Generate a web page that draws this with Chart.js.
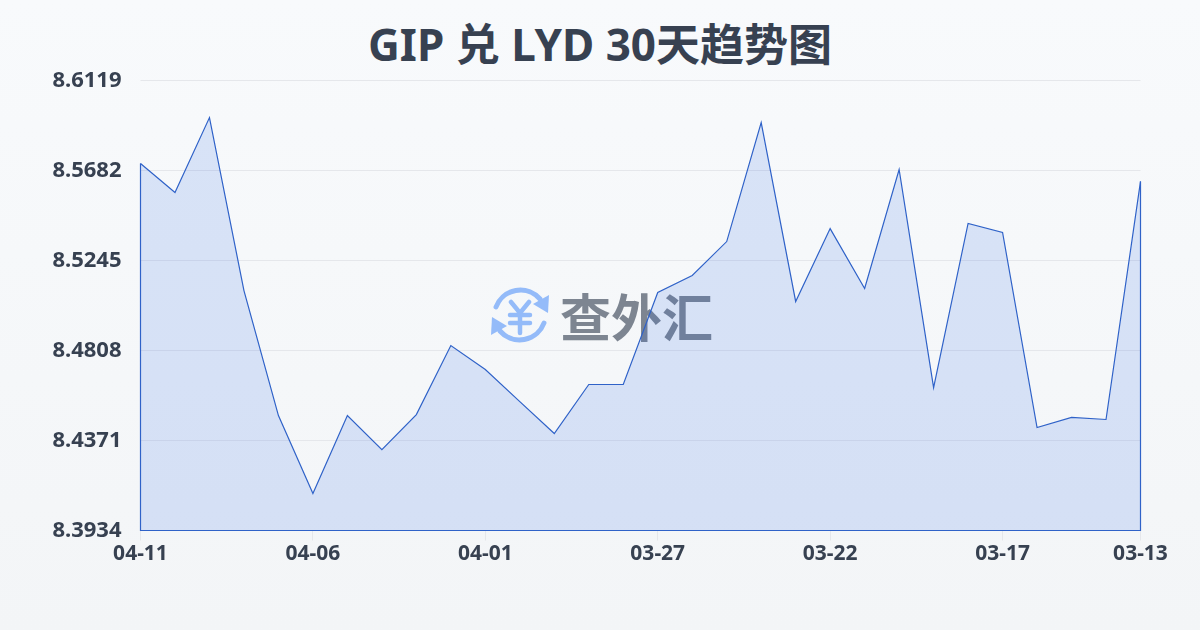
<!DOCTYPE html>
<html lang="zh">
<head>
  <meta charset="UTF-8">
  <title>GIP 兑 LYD 30天趋势图</title>
  <script src="https://cdn.jsdelivr.net/npm/chart.js"></script>
  <style>
    html, body {
      margin: 0;
      width: 1200px;
      height: 630px;
      overflow: hidden;
    }
    body {
      position: relative;
      background: linear-gradient(180deg, #f8fafc, #f3f5f7);
    }
    #chartBox {
      position: absolute;
      left: 0;
      top: 0;
      width: 1200px;
      height: 630px;
    }
    #chartTitle {
      position: absolute;
      left: 0;
      top: 14px;
      width: 1200px;
      margin: 0;
      text-align: center;
      font: 700 44px/60px 'Noto Sans', 'Noto Sans CJK SC', sans-serif;
      color: #374151;
    }
    .watermark {
      position: absolute;
      left: 490px;
      top: 284px;
      height: 62px;
      display: flex;
      align-items: center;
      font: 700 51px 'Noto Sans CJK SC', sans-serif;
      color: #7d8591;
    }
    .watermark svg {
      margin-right: 10px;
    }
  </style>
</head>
<body>

  <h1 id="chartTitle"></h1>

  <div class="watermark">
    <svg width="60" height="60" viewBox="0 0 60 60" fill="none" stroke="#94bbf9" stroke-width="5" stroke-linecap="round">
      <path d="M6 22 A26 26 0 0 1 50 14"/>
      <path d="M54 38 A26 26 0 0 1 10 46"/>
      <path d="M59 10 L58 28 L43 19 Z" fill="#94bbf9" stroke="none"/>
      <path d="M1 50 L2 32 L17 41 Z" fill="#94bbf9" stroke="none"/>
      <path d="M21 17 L30 28 L39 17 M20 30 H40 M20 38 H40 M30 28 V48" stroke-width="4.5"/>
    </svg>
    <span>查外汇</span>
  </div>

  <div id="chartBox"><canvas id="rateChart" width="1200" height="630"></canvas></div>

  <script>
    const chartTitle = 'GIP 兑 LYD 30天趋势图';
    const dates = [
      '04-11', '04-10', '04-09', '04-08', '04-07', '04-06', '04-05', '04-04', '04-03', '04-02',
      '04-01', '03-31', '03-30', '03-29', '03-28', '03-27', '03-26', '03-25', '03-24', '03-23',
      '03-22', '03-21', '03-20', '03-19', '03-18', '03-17', '03-16', '03-15', '03-14', '03-13'
    ];
    const rates = [
      8.5716, 8.5575, 8.5939, 8.5099, 8.4492, 8.4114, 8.4492, 8.4327, 8.4497, 8.4832,
      8.4716, 8.4560, 8.4405, 8.4643, 8.4643, 8.5090, 8.5172, 8.5337, 8.5915, 8.5046,
      8.5400, 8.5109, 8.5687, 8.4628, 8.5425, 8.5381, 8.4434, 8.4483, 8.4473, 8.5629
    ];
    const xTickLabels = ['04-11', '04-06', '04-01', '03-27', '03-22', '03-17', '03-13'];
    const yTickLabels = ['8.3934', '8.4371', '8.4808', '8.5245', '8.5682', '8.6119'];

    const textColor = '#374151';
    const lineColor = '#2f62c8';
    const gridColor = '#e5e7eb';
    const fontFamily = "'Noto Sans', 'Noto Sans CJK SC', sans-serif";

    document.getElementById('chartTitle').textContent = chartTitle;

    // the original strokes the whole area outline, Chart.js only strokes the top
    const outlinePlugin = {
      id: 'outline',
      afterDatasetsDraw(chart) {
        const pts = chart.getDatasetMeta(0).data;
        const base = chart.scales.y.bottom;
        const c = chart.ctx;
        c.save();
        c.strokeStyle = lineColor;
        c.lineWidth = 1.2;
        c.beginPath();
        c.moveTo(pts[0].x, pts[0].y);
        c.lineTo(pts[0].x, base);
        c.lineTo(pts[pts.length - 1].x, base);
        c.lineTo(pts[pts.length - 1].x, pts[pts.length - 1].y);
        c.stroke();
        c.restore();
      }
    };

    const ctx = document.getElementById('rateChart').getContext('2d');
    const rateChart = new Chart(ctx, {
      type: 'line',
      plugins: [outlinePlugin],
      data: {
        labels: dates,
        datasets: [{
          data: rates,
          borderColor: lineColor,
          borderWidth: 1.2,
          backgroundColor: 'rgba(42, 98, 225, 0.15)',
          fill: true,
          tension: 0,
          pointRadius: 0
        }]
      },
      options: {
        responsive: false,
        animation: false,
        layout: { padding: { left: 0.5, right: 59.5, top: 80.5 } },
        plugins: {
          legend: { display: false },
          tooltip: { enabled: false }
        },
        scales: {
          x: {
            afterFit: scale => { scale.height = 99.5; },
            grid: { drawOnChartArea: false, color: gridColor, tickLength: 10 },
            border: { display: false },
            ticks: {
              autoSkip: false,
              maxRotation: 0,
              padding: 1,
              color: textColor,
              font: { family: fontFamily, size: 21, weight: 'bold' },
              callback(value) {
                const label = this.getLabelForValue(value);
                return xTickLabels.includes(label) ? label : null;
              }
            }
          },
          y: {
            min: Number(yTickLabels[0]),
            max: Number(yTickLabels[yTickLabels.length - 1]),
            afterFit: scale => { scale.width = 140; },
            afterBuildTicks: scale => {
              scale.ticks = yTickLabels.map(t => ({ value: Number(t) }));
            },
            grid: { color: gridColor, tickLength: 0 },
            border: { display: false },
            ticks: {
              padding: 19,
              color: textColor,
              font: { family: fontFamily, size: 22, weight: 'bold' },
              callback: value => value.toFixed(4)
            }
          }
        }
      }
    });
  </script>

</body>
</html>
